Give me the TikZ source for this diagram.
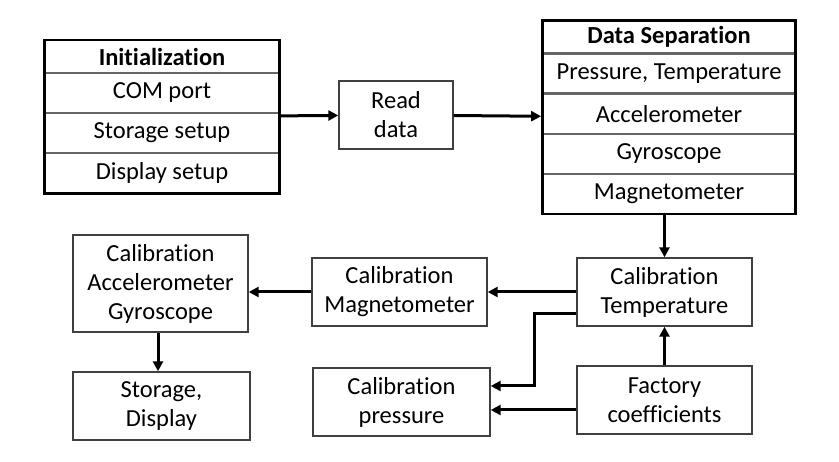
\documentclass[tikz,border=0pt]{standalone}
\usepackage{fontspec}
\setmainfont{Carlito}[Ligatures=CommonOff]
\usepackage{tikz}
\usetikzlibrary{positioning}
\usetikzlibrary{arrows.meta}
\usetikzlibrary{fit}
\tikzset{
  block/.style={rectangle,draw=black!75,line width=1.4pt,fill=white,
                minimum width=175pt,minimum height=68pt,inner sep=0pt,
                align=center,font=\fontsize{24.5}{29}\selectfont},
  cell/.style={rectangle,draw=black!60,line width=1.2pt,inner sep=0pt,
               minimum height=39pt,align=center,
               font=\fontsize{24.5}{29}\selectfont},
  headcell/.style={cell,minimum height=31.5pt,
                   font=\fontsize{24.5}{29}\selectfont\bfseries},
  frame/.style={rectangle,draw=black,line width=2.6pt,inner sep=0pt},
  flow/.style={>={Triangle[length=10pt,width=10pt]},line width=3pt,->},
}
\begin{document}
\begin{tikzpicture}[x=1pt,y=-1pt]
  \useasboundingbox (0,0) rectangle (839,462);

  % initialization table
  \node[headcell,minimum width=234pt] (init0) at (162,56.5) {Initialization};
  \node[cell,minimum width=234pt,below=0pt of init0] (init1) {COM port};
  \node[cell,minimum width=234pt,below=0pt of init1] (init2) {Storage setup};
  \node[cell,minimum width=234pt,below=0pt of init2] (init3) {Display setup};
  \node[frame,fit=(init0)(init3)] (init) {};

  \node[block,minimum width=114pt] (read) at (396,115) {Read\\data};

  % data separation table
  \node[headcell,minimum width=252pt] (sep0) at (669,37) {Data Separation};
  \node[cell,minimum width=252pt,below=0pt of sep0] (sep1) {Pressure, Temperature};
  \node[cell,minimum width=252pt,below=0pt of sep1] (sep2) {Accelerometer};
  \node[cell,minimum width=252pt,below=0pt of sep2] (sep3) {Gyroscope};
  \node[cell,minimum width=252pt,below=0pt of sep3] (sep4) {Magnetometer};
  \node[frame,fit=(sep0)(sep4)] (sep) {};

  % calibration chain
  \node[block] (calT) at (664.5,292) {Calibration\\Temperature};
  \node[block] (calM) at (399.5,292) {Calibration\\Magnetometer};
  \node[block,minimum height=97pt] (calAG) at (160.5,283.5)
      {Calibration\\Accelerometer\\Gyroscope};
  \node[block,minimum width=177pt] (store) at (161.5,406) {Storage,\\Display};
  \node[block,minimum width=177pt] (calP) at (401.5,402) {Calibration\\pressure};
  \node[block] (fact) at (664.5,400) {Factory\\coefficients};

  \draw[flow] (init) -- (read);
  \draw[flow] (read) -- (sep);
  \draw[flow] (calT.north |- sep.south) -- (calT.north);
  \draw[flow] (calT) -- (calM);
  \draw[flow] (calM.west) -- (calM.west -| calAG.east);
  \draw[flow] ([xshift=-2.5pt]calAG.south) -- ([xshift=-2.5pt]calAG.south |- store.north);
  \draw[flow] (fact) -- (calT);
  \draw[flow] ([yshift=-10pt]fact.west) -- ([yshift=-10pt]fact.west -| calP.east);
  \draw[flow] ([yshift=-22pt]calT.west) -- ++(-42,0) |- ([yshift=16pt]calP.east);
\end{tikzpicture}
\end{document}
